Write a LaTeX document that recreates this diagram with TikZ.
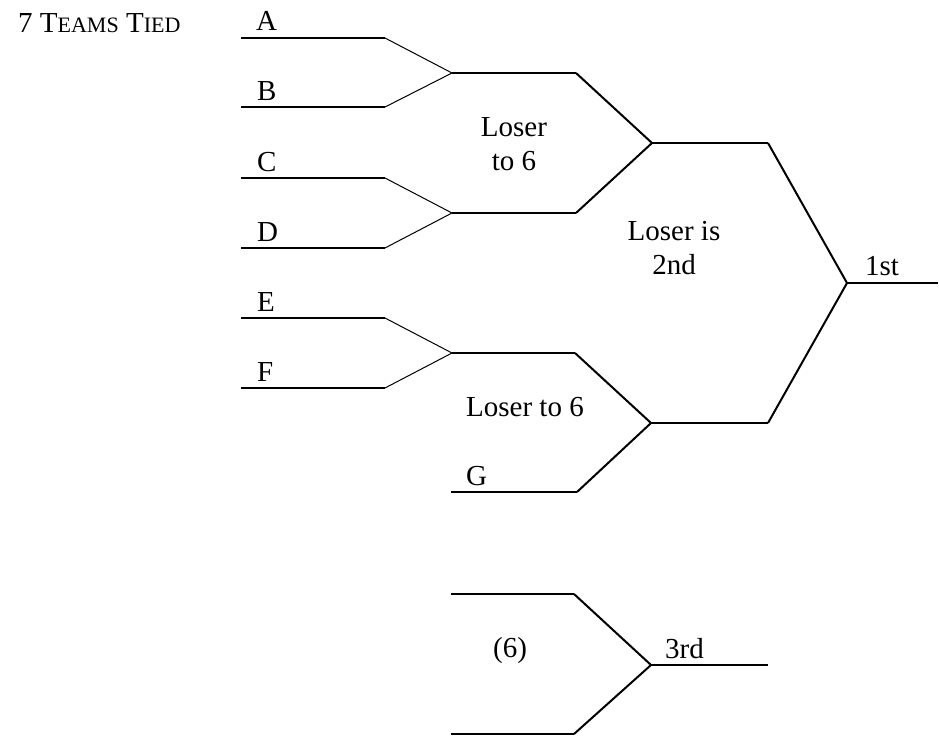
\documentclass[tikz,border=0pt]{standalone}
\usepackage{fontspec}
\setmainfont{Liberation Serif}
\usetikzlibrary{positioning, calc}

\newcommand{\fakesc}[1]{{\fontsize{22}{26}\selectfont #1}}

\begin{document}
\begin{tikzpicture}[x=1pt, y=-1pt, every node/.style={inner sep=0pt, font=\fontsize{29}{34}\selectfont}, team/.style={anchor=base west}, note/.style={align=center}, slot/.style={line width=2pt}, feed/.style={line width=1pt}]

        \useasboundingbox (0,0) rectangle (939,736);

        % Points
        \coordinate (a1) at (241,38);   \coordinate (a2) at (385,38);
        \coordinate (b1) at (241,107);  \coordinate (b2) at (385,107);
        \coordinate (ab1) at (452,73);  \coordinate (ab2) at (576,73);
        \coordinate (c1) at (241,178);  \coordinate (c2) at (385,178);
        \coordinate (d1) at (241,248);  \coordinate (d2) at (385,248);
        \coordinate (cd1) at (452,213); \coordinate (cd2) at (576,213);
        \coordinate (abcd1) at (652,143); \coordinate (abcd2) at (768,143);
        \coordinate (e1) at (241,318);  \coordinate (e2) at (385,318);
        \coordinate (f1) at (241,388);  \coordinate (f2) at (385,388);
        \coordinate (ef1) at (452,353); \coordinate (ef2) at (575,353);
        \coordinate (g1) at (451,492);  \coordinate (g2) at (577,492);
        \coordinate (efg1) at (651,423); \coordinate (efg2) at (768,423);
        \coordinate (first1) at (847,283); \coordinate (first2) at (938,283);
        \coordinate (s1) at (451,594);  \coordinate (s2) at (574,594);
        \coordinate (t1) at (451,734);  \coordinate (t2) at (574,734);
        \coordinate (third1) at (651,665); \coordinate (third2) at (768,665);

        % Nodes
        \node (title) [team] at (18,32) {7 T\fakesc{EAMS} T\fakesc{IED}};
        \node (teamA) [team] at (256,30) {A};
        \node (teamB) [team] at (257,100) {B};
        \node (teamC) [team] at (257,171) {C};
        \node (teamD) [team] at (257,241) {D};
        \node (teamE) [team] at (257,311) {E};
        \node (teamF) [team] at (257,381) {F};
        \node (teamG) [team] at (466,485) {G};
        \node (loserTop) [note] at (514,144) {Loser \\ to 6};
        \node (loserSecond) [note] at (674,248) {Loser is \\ 2nd};
        \node (loserBottom) [team] at (466,416) {Loser to 6};
        \node (place1) [team] at (865,275) {1st};
        \node (six) [team] at (493,657) {(6)};
        \node (place3) [team] at (665,658) {3rd};

        % Lines
        \draw[slot] (a1) -- (a2);
        \draw[slot] (b1) -- (b2);
        \draw[feed] (a2) -- (ab1) -- (b2);
        \draw[slot] (ab1) -- (ab2);
        \draw[slot] (c1) -- (c2);
        \draw[slot] (d1) -- (d2);
        \draw[feed] (c2) -- (cd1) -- (d2);
        \draw[slot] (cd1) -- (cd2);
        \draw[slot] (ab2) -- (abcd1) -- (cd2);
        \draw[slot] (abcd1) -- (abcd2);
        \draw[slot] (e1) -- (e2);
        \draw[slot] (f1) -- (f2);
        \draw[feed] (e2) -- (ef1) -- (f2);
        \draw[slot] (ef1) -- (ef2);
        \draw[slot] (g1) -- (g2);
        \draw[slot] (ef2) -- (efg1) -- (g2);
        \draw[slot] (efg1) -- (efg2);
        \draw[slot] (abcd2) -- (first1) -- (efg2);
        \draw[slot] (first1) -- (first2);
        \draw[slot] (s1) -- (s2);
        \draw[slot] (t1) -- (t2);
        \draw[slot] (s2) -- (third1) -- (t2);
        \draw[slot] (third1) -- (third2);
    \end{tikzpicture}
\end{document}
